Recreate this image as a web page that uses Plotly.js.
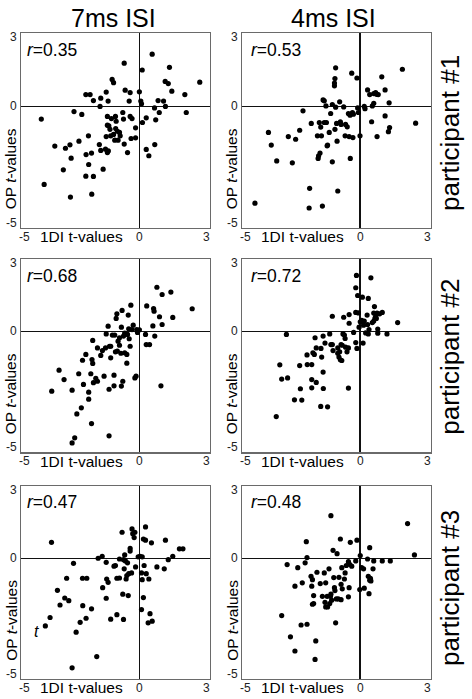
<!DOCTYPE html>
<html>
<head>
<meta charset="utf-8">
<script src="https://cdn.plot.ly/plotly-3.0.1.min.js"></script>
<style>html,body{margin:0;padding:0;background:#fff;}#chart{width:472px;height:699px;}</style>
</head>
<body>
<div id="chart"></div>
<script>
// ---------------- DATA ----------------
var columnTitles = ["7ms ISI", "4ms ISI"];
var rowTitles = ["participant #1", "participant #2", "participant #3"];
var xAxisLabel = "1DI t-values";
var yAxisLabel = "OP <i>t</i>-values";
var tickVals = [-5, 0, 3];
var tickText = ["-5", "0", "3"];
var rValues = ["0.35", "0.53", "0.68", "0.72", "0.47", "0.48"];

var p1_7ms_x = [-4.13,-4.01,-3.56,-3.20,-3.11,-2.92,-2.87,-2.90,-2.75,-2.54,-2.42,-2.25,-2.07,-2.14,-2.24,-2.13,-2.25,-1.93,-2.00,-2.01,-1.93,-1.68,-1.62,-1.65,-1.62,-1.52,-1.39,-1.31,-1.42,-1.34,-1.30,-1.39,-1.34,-1.34,-1.28,-1.23,-1.20,-1.17,-1.14,-1.08,-1.00,-0.97,-0.99,-1.08,-0.92,-0.83,-1.03,-0.89,-0.80,-0.69,-0.66,-0.63,-0.59,-0.63,-0.49,-0.42,-0.38,-0.38,-0.34,-0.30,-0.15,-0.15,0.01,0.07,0.13,0.10,0.14,0.30,0.30,0.41,0.55,0.65,0.70,0.66,0.85,0.80,1.03,1.11,1.10,1.23,1.28,1.38,1.93,1.99,2.56];
var p1_7ms_y = [-0.53,-3.22,-1.64,-2.62,-1.73,-1.59,-2.14,-3.74,-0.22,-1.44,-0.34,0.48,0.48,-1.22,-1.99,-2.40,-2.88,-2.89,-3.62,-1.93,0.23,-1.58,0.33,-0.01,-1.82,-2.59,0.58,0.21,-1.77,-1.91,-1.84,-1.25,-0.42,-0.78,-0.81,-0.95,-1.22,-0.51,1.10,0.97,-0.42,-0.62,-0.92,-1.16,-1.03,-1.08,-1.40,-1.40,-1.22,-0.26,-0.53,1.77,0.66,-1.56,-1.91,0.21,0.56,-0.42,-1.33,-0.51,-0.89,-1.30,0.59,0.21,1.49,0.10,-0.67,-0.48,-1.78,-2.04,2.14,-0.07,-0.56,-1.58,-0.26,0.23,0.21,-0.01,1.02,0.93,1.60,0.62,0.48,-0.26,0.99];

var p1_4ms_x = [-4.44,-3.87,-3.75,-3.52,-3.03,-2.86,-2.72,-2.55,-2.41,-2.13,-2.15,-2.06,-1.80,-1.72,-1.75,-1.77,-1.69,-1.66,-1.63,-1.59,-1.56,-1.51,-1.51,-1.42,-1.44,-1.39,-1.37,-1.30,-1.24,-1.17,-1.17,-1.08,-1.08,-1.06,-1.03,-1.03,-1.06,-0.99,-0.94,-0.97,-0.86,-0.83,-0.80,-0.69,-0.63,-0.61,-0.54,-0.49,-0.46,-0.42,-0.41,-0.35,-0.32,-0.30,-0.28,-0.13,-0.10,-0.07,0.00,0.21,0.18,0.32,0.41,0.49,0.52,0.58,0.58,0.66,0.72,0.70,0.77,0.92,1.06,1.06,1.20,1.25,1.23,1.79,2.35];
var p1_4ms_y = [-3.99,-1.08,-1.60,-2.25,-1.25,-2.33,-1.36,-0.99,-0.19,-3.38,-4.19,-0.71,-1.22,-0.67,-2.04,-2.15,-1.93,-0.86,-1.22,-4.11,0.26,0.22,-0.67,-0.67,0.01,-1.63,-1.60,-1.08,-0.30,0.07,-2.29,0.95,0.84,1.14,1.58,-0.04,-0.95,-0.71,-3.49,-1.44,0.18,-0.64,-0.75,-0.03,-1.22,-0.75,-0.85,-0.30,-1.25,-0.37,-2.15,1.36,-0.26,-1.29,-0.33,1.16,-0.07,-0.26,-1.22,-0.10,-0.01,0.67,0.48,-0.64,0.01,0.12,0.52,0.56,-1.25,0.49,0.48,1.21,0.67,-0.40,-1.05,-0.88,0.14,1.52,-0.70];

var p2_7ms_x = [-3.69,-3.38,-3.17,-2.83,-2.63,-2.44,-2.55,-2.39,-2.35,-2.25,-2.13,-2.13,-2.04,-2.01,-1.96,-1.99,-1.96,-1.93,-1.83,-1.76,-1.76,-1.62,-1.55,-1.48,-1.42,-1.39,-1.31,-1.25,-1.20,-1.27,-1.27,-1.20,-1.13,-1.06,-1.06,-1.03,-1.00,-0.97,-0.94,-0.92,-0.89,-0.83,-0.83,-0.77,-0.75,-0.72,-0.75,-0.69,-0.66,-0.61,-0.61,-0.52,-0.52,-0.49,-0.46,-0.44,-0.42,-0.38,-0.35,-0.30,-0.25,-0.18,-0.13,-0.07,0.01,0.27,0.30,0.44,0.32,0.58,0.61,0.63,0.66,0.75,0.86,0.97,0.97,0.92,1.34,1.42,2.24,-2.72,-2.83,-0.10];
var p2_7ms_y = [-2.47,-1.60,-1.99,-2.43,-3.41,-3.16,-1.75,-1.19,-2.19,-0.95,-2.51,-2.80,-1.75,-3.81,-0.37,-1.16,-1.32,-2.12,-1.94,-2.06,-0.68,-0.99,-0.79,-1.85,-0.68,-0.10,0.22,-0.61,-0.61,-2.39,-4.32,-1.09,-0.15,-1.81,-2.25,-0.15,-0.84,0.54,0.73,-0.81,-0.40,-0.57,-0.26,-0.90,0.18,0.87,-2.26,-2.06,-0.19,-0.07,-0.88,-0.95,-1.31,-0.12,0.68,0.11,-0.30,-0.61,1.09,0.08,0.26,-1.92,-1.85,-0.04,0.07,-0.12,-0.54,-0.54,1.06,0.23,0.95,0.84,-0.19,1.83,0.61,1.53,0.29,-2.25,1.63,0.58,0.94,-4.40,-4.61,0.08];

var p2_4ms_x = [-3.54,-3.39,-3.31,-3.11,-3.06,-2.77,-2.55,-2.52,-2.46,-2.24,-2.23,-2.04,-2.04,-2.04,-1.99,-1.93,-1.90,-1.85,-1.85,-1.66,-1.65,-1.62,-1.56,-1.56,-1.55,-1.48,-1.37,-1.28,-1.23,-1.17,-1.17,-1.14,-0.94,-0.94,-0.89,-0.86,-0.80,-0.83,-0.77,-0.75,-0.72,-0.66,-0.69,-0.63,-0.61,-0.55,-0.49,-0.49,-0.46,-0.46,-0.27,-0.18,-0.15,-0.18,-0.13,-0.10,-0.07,-0.04,0.01,0.07,0.10,0.13,0.15,0.18,0.24,0.30,0.32,0.35,0.35,0.38,0.46,0.52,0.58,0.58,0.61,0.63,0.66,0.69,0.72,0.75,0.75,0.83,0.94,1.14,1.59,-0.18];
var p2_4ms_y = [-3.52,-1.38,-1.97,-0.12,-1.92,-2.83,-1.41,-2.37,-2.84,-0.97,-1.37,-1.37,-1.99,-2.33,-0.88,-0.95,-0.26,-0.68,-2.11,-3.10,-0.70,-1.06,-0.19,-1.68,-2.36,-0.48,-3.12,-0.10,-0.54,-0.54,0.63,-0.79,-0.68,-0.90,-1.06,-0.84,-0.54,-1.17,-1.20,-0.57,-0.10,-0.15,0.59,-0.29,-0.65,-0.84,-0.68,-2.34,0.34,0.70,-0.04,-0.46,2.32,1.81,-0.70,1.49,0.77,0.18,0.40,0.46,1.42,-0.48,0.26,0.43,-0.06,0.68,0.29,1.37,-0.10,0.08,2.22,0.37,0.76,0.43,1.03,0.54,0.62,0.54,0.76,0.10,-0.07,0.73,0.79,-0.10,0.37,0.79];

var p3_7ms_x = [-3.70,-3.96,-3.76,-3.45,-3.34,-3.14,-3.06,-2.97,-2.77,-2.66,-2.83,-2.49,-2.39,-2.38,-2.24,-2.21,-2.01,-1.79,-1.73,-1.56,-1.54,-1.39,-1.39,-1.37,-1.31,-1.20,-1.06,-1.00,-0.94,-0.94,-0.83,-0.83,-0.72,-0.69,-0.66,-0.66,-0.63,-0.61,-0.58,-0.55,-0.52,-0.49,-0.46,-0.44,-0.38,-0.38,-0.32,-0.30,-0.27,-0.21,-0.18,-0.15,-0.04,0.04,0.10,0.13,0.10,0.13,0.18,0.21,0.18,0.27,0.30,0.27,0.41,0.46,0.38,0.52,0.55,0.75,1.06,1.11,1.23,1.42,1.70,1.85];
var p3_7ms_y = [0.66,-2.81,-2.46,-1.33,-1.94,-1.65,-0.83,-1.76,-0.21,-3.07,-4.55,-2.66,-0.83,-1.97,-2.49,-0.83,-2.10,-4.08,0.00,0.08,-1.22,-0.17,-1.66,-0.86,-1.00,-2.53,-0.33,-0.30,-2.34,-0.83,-0.03,-0.82,1.08,-1.49,-2.54,-0.06,-0.44,0.14,-0.11,-0.86,-0.72,-0.19,-1.55,-0.64,0.30,0.41,-0.61,1.22,1.02,0.86,1.08,-0.36,0.06,0.08,-0.61,-0.89,-2.13,0.06,-1.63,-0.30,0.80,1.30,-0.64,0.75,-0.86,-2.30,-2.68,0.64,-2.61,-0.36,-0.44,0.75,-0.06,0.08,0.39,0.39];

var p3_4ms_x = [-3.31,-3.08,-2.94,-2.75,-2.75,-2.63,-2.49,-2.44,-2.32,-2.27,-2.24,-2.24,-2.07,-2.01,-2.04,-2.01,-1.96,-1.96,-1.87,-1.90,-1.82,-1.68,-1.59,-1.51,-1.48,-1.45,-1.45,-1.39,-1.37,-1.31,-1.28,-1.25,-1.23,-1.23,-1.20,-1.14,-1.11,-1.08,-1.06,-1.03,-1.00,-0.97,-0.92,-0.89,-0.83,-0.80,-0.80,-0.77,-0.75,-0.66,-0.63,-0.58,-0.49,-0.46,-0.49,-0.44,-0.41,-0.35,-0.13,-0.01,0.01,0.07,0.15,0.18,0.32,0.35,0.38,0.41,0.41,0.44,0.46,0.55,0.58,0.94,1.28,2.01,2.30,-0.18];
var p3_4ms_y = [-2.38,-0.26,-3.26,-3.85,-1.16,-0.39,-2.77,-1.02,-0.19,0.69,0.03,-2.74,-0.75,-0.89,-1.16,-1.91,-1.55,-1.88,-3.43,-4.20,-0.58,-1.05,-1.58,-0.61,-1.83,-2.02,-1.02,-1.58,-2.02,-0.44,-1.88,-1.58,1.77,-1.49,-1.74,0.33,-0.80,-1.22,-1.34,-2.68,-1.69,0.19,-1.69,-0.79,0.80,-1.72,-1.08,-0.39,-1.27,-0.86,-0.61,-0.30,-1.60,-1.22,-0.14,-0.25,0.66,-0.33,0.75,-1.30,0.11,-0.39,-0.44,-1.24,-0.03,-0.75,-1.47,0.44,-0.91,-0.83,-0.94,-0.44,-0.11,-0.11,-0.11,1.44,0.14,-0.11];

// stray italic "t" glyph present in the bottom-left panel of the original
var strayGlyph = {text: "<i>t</i>", x: -4.32, y: -3.02};

// ---------------- LAYOUT ----------------
var W = 472, H = 699;
var colPx = [[20.7, 210.2], [241.7, 431.0]];
var rowPx = [[33.3, 227.7], [259.0, 452.3], [486.0, 678.7]];
function fx(px) { return px / W; }
function fy(py) { return 1 - py / H; }

var panels = [
  {x: p1_7ms_x, y: p1_7ms_y}, {x: p1_4ms_x, y: p1_4ms_y},
  {x: p2_7ms_x, y: p2_7ms_y}, {x: p2_4ms_x, y: p2_4ms_y},
  {x: p3_7ms_x, y: p3_7ms_y}, {x: p3_4ms_x, y: p3_4ms_y}
];

var FONT = "Liberation Sans, Arial, sans-serif";
var data = [];
var layout = {
  width: W, height: H,
  margin: {l: 0, r: 0, t: 0, b: 0},
  paper_bgcolor: "#fff", plot_bgcolor: "#fff",
  showlegend: false,
  font: {family: FONT, color: "#000"},
  annotations: []
};

var rLeftShift = [4, 7];
for (var i = 0; i < panels.length; i++) {
  var row = Math.floor(i / 2), col = i % 2;
  var n = i + 1;
  var xa = n === 1 ? "x" : "x" + n;
  var ya = n === 1 ? "y" : "y" + n;
  var xk = n === 1 ? "xaxis" : "xaxis" + n;
  var yk = n === 1 ? "yaxis" : "yaxis" + n;
  data.push({
    type: "scatter", mode: "markers",
    x: panels[i].x, y: panels[i].y,
    xaxis: xa, yaxis: ya,
    marker: {color: "#000", size: 5.2},
    hoverinfo: "skip"
  });
  var axCommon = {
    range: [-5, 3], showgrid: false,
    zeroline: true, zerolinecolor: "#111", zerolinewidth: 1.2,
    showline: true, mirror: true, linecolor: "#6a6a6a", linewidth: 1.2,
    showticklabels: false, ticks: "", fixedrange: true
  };
  layout[xk] = Object.assign({}, axCommon, {
    domain: [fx(colPx[col][0]), fx(colPx[col][1])], anchor: ya
  });
  layout[yk] = Object.assign({}, axCommon, {
    domain: [fy(rowPx[row][1]), fy(rowPx[row][0])], anchor: xa
  });

  // x tick labels
  var xShifts = [3.5, 0, -4];
  for (var t = 0; t < tickVals.length; t++) {
    layout.annotations.push({
      xref: xa, yref: ya + " domain", x: tickVals[t], y: 0,
      xanchor: "center", yanchor: "middle", xshift: xShifts[t], yshift: -9,
      text: tickText[t], showarrow: false,
      font: {family: FONT, size: 12, color: "#222"}
    });
  }
  // y tick labels
  var yShifts = [5, 0, -4];
  for (var t2 = 0; t2 < tickVals.length; t2++) {
    layout.annotations.push({
      xref: xa + " domain", yref: ya, x: 0, y: tickVals[t2],
      xanchor: "right", yanchor: "middle", xshift: -2, yshift: yShifts[t2],
      text: tickText[t2], showarrow: false,
      font: {family: FONT, size: 12, color: "#222"}
    });
  }
  // x axis label
  layout.annotations.push({
    xref: xa + " domain", yref: ya + " domain", x: 61 / 189.5, y: 0,
    xanchor: "center", yanchor: "middle", yshift: -9,
    text: xAxisLabel, showarrow: false,
    font: {family: FONT, size: 15.5, color: "#000"}
  });
  // y axis label
  layout.annotations.push({
    xref: xa + " domain", yref: ya + " domain", x: 0, y: 1 - 135 / 194,
    xanchor: "center", yanchor: "middle", xshift: -10, textangle: -90,
    text: yAxisLabel, showarrow: false,
    font: {family: FONT, size: 15.5, color: "#000"}
  });
  // r value
  layout.annotations.push({
    xref: xa + " domain", yref: ya + " domain", x: 0, y: 1,
    xanchor: "left", yanchor: "middle", xshift: rLeftShift[col], yshift: -16.5,
    text: "<i>r</i>=" + rValues[i], showarrow: false,
    font: {family: FONT, size: 17.5, color: "#000"}
  });
}

// column titles
var colTitleX = [113, 333.5];
for (var c = 0; c < columnTitles.length; c++) {
  layout.annotations.push({
    xref: "paper", yref: "paper", x: fx(colTitleX[c]), y: fy(18),
    xanchor: "center", yanchor: "middle",
    text: columnTitles[c], showarrow: false,
    font: {family: FONT, size: 25, color: "#000"}
  });
}
// row titles
var rowTitleY = [133, 356.7, 588];
for (var r = 0; r < rowTitles.length; r++) {
  layout.annotations.push({
    xref: "paper", yref: "paper", x: fx(450), y: fy(rowTitleY[r]),
    xanchor: "center", yanchor: "middle", textangle: -90,
    text: rowTitles[r], showarrow: false,
    font: {family: FONT, size: 26, color: "#000"}
  });
}
// stray glyph
layout.annotations.push({
  xref: "x5", yref: "y5", x: strayGlyph.x, y: strayGlyph.y,
  xanchor: "center", yanchor: "middle",
  text: strayGlyph.text, showarrow: false,
  font: {family: FONT, size: 16, color: "#000"}
});

Plotly.newPlot("chart", data, layout, {displayModeBar: false, staticPlot: true});
</script>
</body>
</html>
